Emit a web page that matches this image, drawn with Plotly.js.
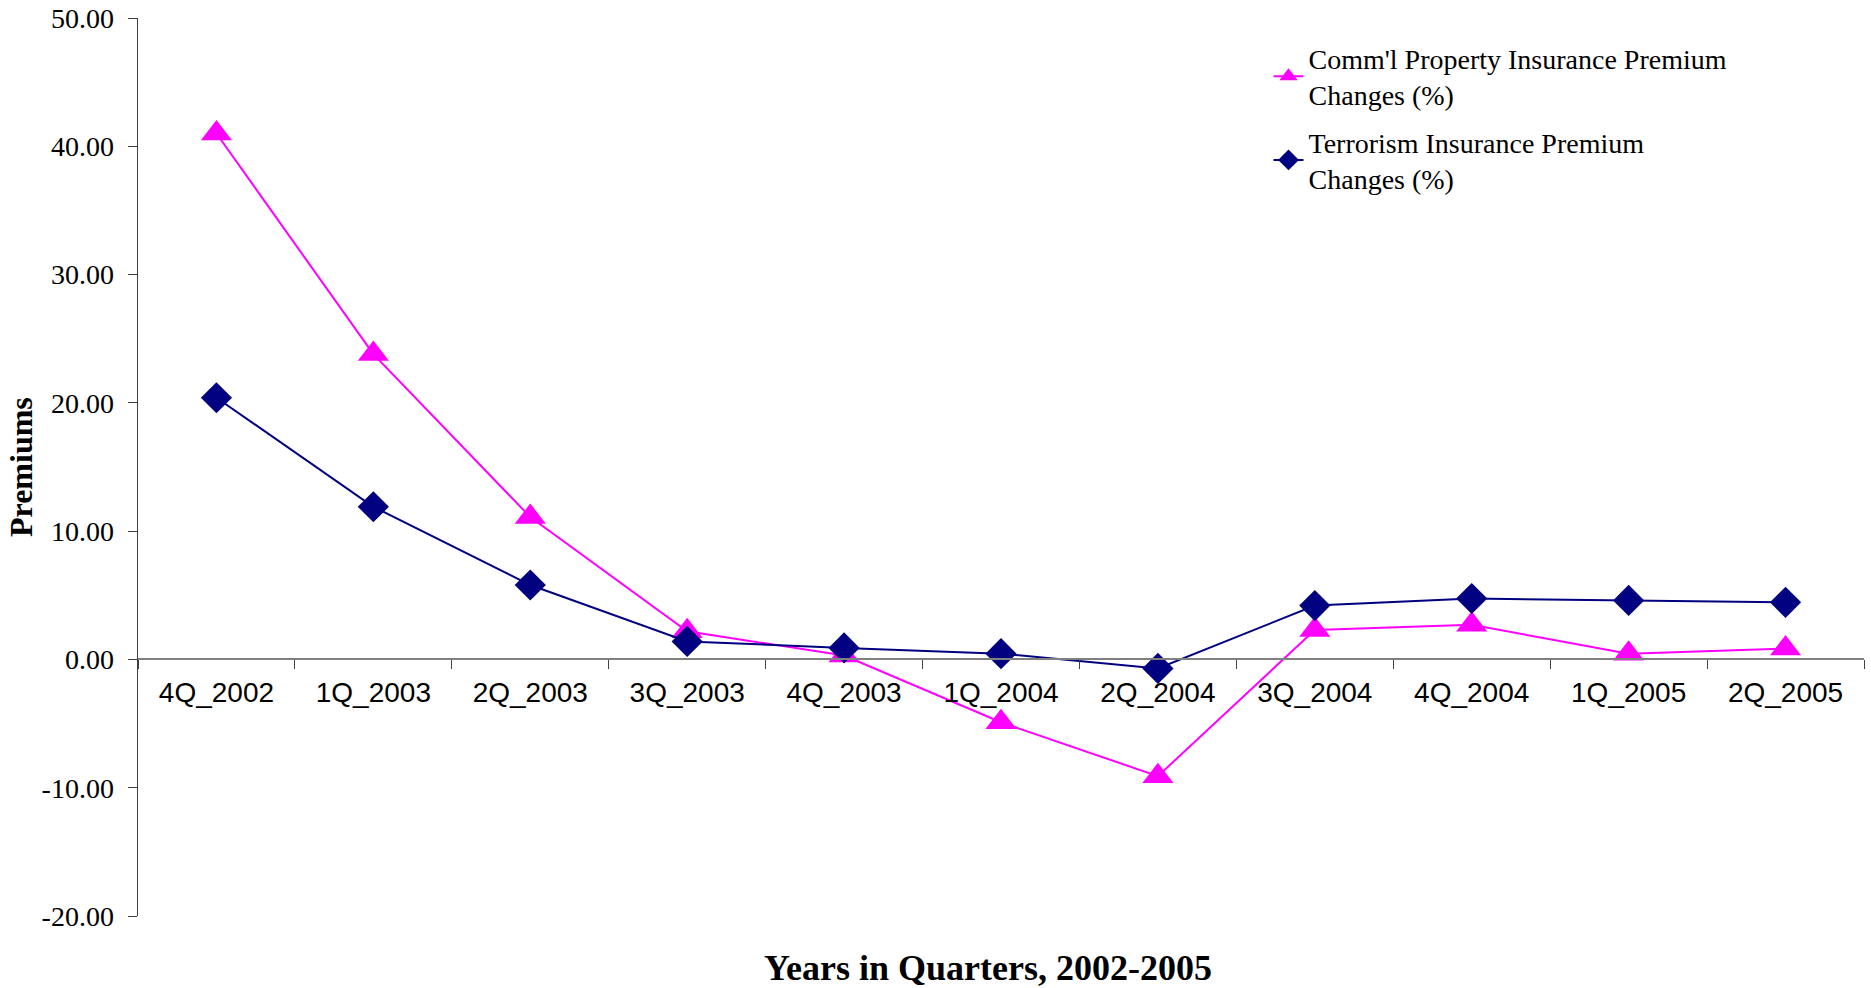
<!DOCTYPE html>
<html>
<head>
<meta charset="utf-8">
<script src="https://cdn.plot.ly/plotly-3.0.1.min.js"></script>
<style>html,body{margin:0;padding:0;background:#fff;}#chart{width:1871px;height:988px;}</style>
</head>
<body>
<div id="chart"></div>
<script>
const quarters = ["4Q_2002","1Q_2003","2Q_2003","3Q_2003","4Q_2003","1Q_2004","2Q_2004","3Q_2004","4Q_2004","1Q_2005","2Q_2005"];
const commPropertyChanges = [41.0, 23.8, 11.1, 2.2, 0.3, -4.9, -9.1, 2.3, 2.7, 0.45, 0.85];
const terrorismChanges = [20.4, 11.9, 5.8, 1.4, 0.9, 0.45, -0.7, 4.2, 4.75, 4.6, 4.45];
const yTickVals = [-20, -10, 0, 10, 20, 30, 40, 50];
const yTickText = ["-20.00", "-10.00", "0.00", "10.00", "20.00", "30.00", "40.00", "50.00"];
const seriesNames = ["Comm'l Property Insurance Premium<br>Changes (%)", "Terrorism Insurance Premium<br>Changes (%)"];
const xTitle = "Years in Quarters, 2002-2005";
const yTitle = "Premiums";

const yMin = -20, yMax = 50;

const traces = [
  {
    x: quarters, y: commPropertyChanges, name: seriesNames[0], type: 'scatter', mode: 'lines+markers',
    legendgroup: 'a',
    line: {color: '#FF00FF', width: 2},
    marker: {symbol: 'triangle-up', size: 27, color: '#FF00FF'}
  },
  {
    x: quarters, y: terrorismChanges, name: seriesNames[1], type: 'scatter', mode: 'lines+markers',
    legendgroup: 'b',
    line: {color: '#000080', width: 2},
    marker: {symbol: 'diamond', size: 24, color: '#000080'}
  }
];

const layout = {
  width: 1871, height: 988,
  paper_bgcolor: '#fff', plot_bgcolor: '#fff',
  margin: {l: 138, r: 7, t: 18, b: 72},
  showlegend: true,
  legend: {
    x: 0.655, y: 0.983, xanchor: 'left', yanchor: 'top',
    font: {family: 'Liberation Serif, Times New Roman, serif', size: 28, color: '#000'},
    tracegroupgap: 8,
    bgcolor: 'rgba(0,0,0,0)'
  },
  xaxis: {
    type: 'category',
    range: [-0.5, 10.5],
    anchor: 'free',
    position: (0 - yMin) / (yMax - yMin),
    showline: true, linecolor: '#808080', linewidth: 2,
    ticks: 'outside', tickson: 'boundaries', ticklen: 9, tickcolor: '#404040', tickwidth: 1,
    ticklabelstandoff: 8,
    tickfont: {family: 'Liberation Sans, Arial, sans-serif', size: 28, color: '#000'},
    showgrid: false, zeroline: false, fixedrange: true
  },
  yaxis: {
    range: [yMin, yMax],
    tickvals: yTickVals, ticktext: yTickText,
    showline: true, linecolor: '#404040', linewidth: 1.5,
    ticks: 'outside', ticklen: 9, tickcolor: '#404040', tickwidth: 1,
    ticklabelstandoff: 8,
    tickfont: {family: 'Liberation Serif, Times New Roman, serif', size: 28, color: '#000'},
    showgrid: false, zeroline: false, fixedrange: true
  },
  annotations: [
    {
      text: '<b>' + xTitle + '</b>', xref: 'paper', yref: 'paper',
      x: 0.5, xshift: -13, y: 0, yshift: -52, xanchor: 'center', yanchor: 'middle', showarrow: false,
      font: {family: 'Liberation Serif, Times New Roman, serif', size: 36, color: '#000'}
    },
    {
      text: '<b>' + yTitle + '</b>', xref: 'paper', yref: 'paper',
      x: 0, xshift: -117, y: 0.5, xanchor: 'center', yanchor: 'middle', showarrow: false, textangle: -90,
      font: {family: 'Liberation Serif, Times New Roman, serif', size: 32, color: '#000'}
    }
  ]
};

Plotly.newPlot('chart', traces, layout, {displayModeBar: false, staticPlot: true});
</script>
</body>
</html>
